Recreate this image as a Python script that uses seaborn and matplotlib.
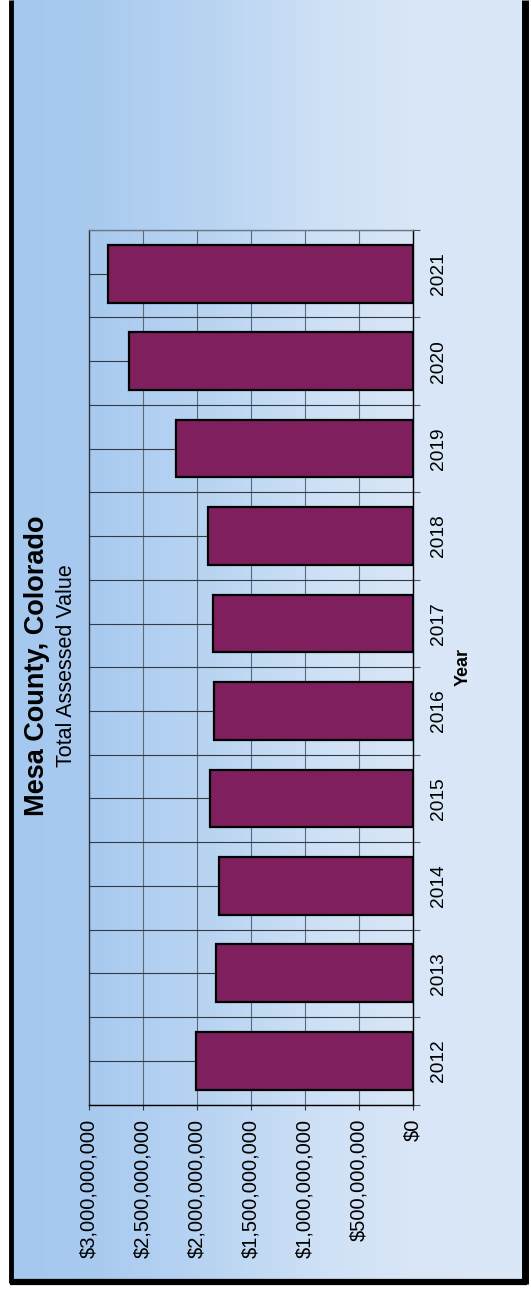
import numpy as np
import pandas as pd
import seaborn as sns
import matplotlib.pyplot as plt
from matplotlib.colors import LinearSegmentedColormap
from matplotlib.ticker import FuncFormatter, FixedLocator

# data
years = ['2012', '2013', '2014', '2015', '2016', '2017', '2018', '2019', '2020', '2021']
values = [2.012e9, 1.821e9, 1.799e9, 1.882e9, 1.840e9, 1.852e9, 1.895e9, 2.197e9, 2.627e9, 2.827e9]
value_ticks = [0, 5e8, 1e9, 1.5e9, 2e9, 2.5e9, 3e9]

df = pd.DataFrame({'Year': years, 'Value': values})

sns.set_style("ticks")
plt.rcParams['font.family'] = ['Liberation Sans', 'DejaVu Sans']
plt.rcParams['text.color'] = 'black'
plt.rcParams['xtick.labelcolor'] = 'black'
plt.rcParams['ytick.labelcolor'] = 'black'

W, H = 531, 1289
fig = plt.figure(figsize=(W / 100, H / 100), dpi=100)
fig.patch.set_facecolor('white')

# background panel with horizontal gradient and black frame
bg = fig.add_axes([0, 0, 1, 1], zorder=-5)
bg.set_xlim(0, W)
bg.set_ylim(H, 0)
bg.axis('off')
cmap = LinearSegmentedColormap.from_list(
    'bg', [(0, '#a5c8ef'), (0.18, '#aacbf0'), (0.4, '#bad5f2'),
           (0.62, '#cfe1f6'), (0.78, '#d8e6f7'), (1, '#dbe8f8')])
grad = np.linspace(0, 1, 256).reshape(1, -1)
bg.imshow(grad, cmap=cmap, aspect='auto', extent=(12, 522, 1280, 0))
bg.plot([11, 11], [0, 1283], color='black', lw=3.5, solid_capstyle='butt')
bg.plot([524.5, 524.5], [0, 1284], color='black', lw=5, solid_capstyle='butt')
bg.plot([9.5, 527], [1281.5, 1281.5], color='black', lw=4.5, solid_capstyle='butt')

# main axes (chart is drawn rotated: bars grow leftwards from $0)
ax = fig.add_axes([89 / W, 1 - 1104.5 / H, 324 / W, 874.5 / H])
ax.set_facecolor('none')
order = years[::-1]
sns.barplot(data=df, x='Value', y='Year', order=order, orient='h',
            color='#801f5e', saturation=1, width=0.66,
            edgecolor='black', linewidth=1.6, ax=ax, zorder=3)

ax.set_xlim(3e9, 0)
ax.set_ylim(len(years) - 0.5, -0.5)
ax.set_axisbelow(True)

ax.xaxis.set_major_locator(FixedLocator(value_ticks))
ax.xaxis.set_major_formatter(FuncFormatter(lambda v, _: f'${v:,.0f}'))
ax.yaxis.set_minor_locator(FixedLocator(np.arange(-0.5, len(years), 1)))
ax.yaxis.tick_right()

ax.tick_params(axis='x', which='major', direction='out', length=3.5, width=0.8,
               color='#333333', labelsize=14.5, labelrotation=90, pad=7)
ax.tick_params(axis='y', which='major', length=0, labelsize=13.8, pad=12,
               labelrotation=90)
ax.tick_params(axis='y', which='minor', direction='out', length=5, width=0.8,
               color='#555555')
for lab in ax.get_yticklabels():
    lab.set_va('center')

ax.grid(axis='x', which='major', color='#5a6878', lw=0.8)
ax.grid(axis='y', which='major', color='#333a44', lw=0.8)
ax.grid(axis='y', which='minor', color='#333a44', lw=0.8)

ax.spines['left'].set_color('#333333')
ax.spines['top'].set_color('#6a7888')
ax.spines['right'].set_color('black')
ax.spines['bottom'].set_color('black')
for s in ax.spines.values():
    s.set_linewidth(1.0)
    s.set_visible(True)

ax.set_xlabel('')
ax.set_ylabel('')

# titles (rotated)
fig.text(37 / W, 1 - 666 / H, 'Mesa County, Colorado', rotation=90,
         ha='center', va='center', fontsize=19.5, fontweight='bold')
fig.text(66 / W, 1 - 666 / H, 'Total Assessed Value', rotation=90,
         ha='center', va='center', fontsize=15.5)
fig.text(463 / W, 1 - 667 / H, 'Year', rotation=90,
         ha='center', va='center', fontsize=13, fontweight='bold')

fig.savefig('out.png', dpi=100)
